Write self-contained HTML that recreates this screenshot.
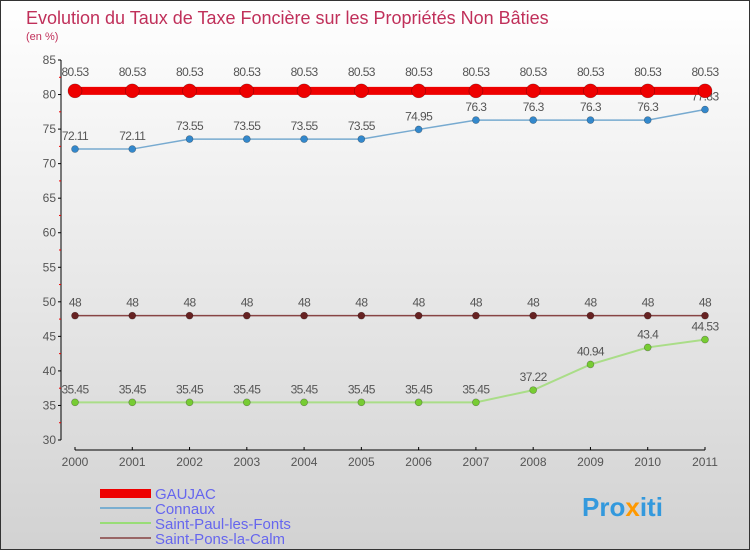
<!DOCTYPE html>
<html><head><meta charset="utf-8"><style>
body{margin:0}
#c{width:750px;height:550px;position:relative;font-family:"Liberation Sans",sans-serif;}
</style></head><body>
<div id="c">
<svg id="s" width="750" height="550" xmlns="http://www.w3.org/2000/svg">
<defs><linearGradient id="bg" x1="0" y1="0" x2="0" y2="1"><stop offset="0" stop-color="#ffffff"/><stop offset="1" stop-color="#d2d2d2"/></linearGradient></defs>
<rect x="0.5" y="0.5" width="749" height="549" fill="url(#bg)" stroke="#333"/>
<text x="26" y="24" font-size="18" fill="#c0305a">Evolution du Taux de Taxe Foncière sur les Propriétés Non Bâties</text>
<text x="26" y="40" font-size="11" fill="#c0305a">(en %)</text>
<g id="axes"></g><g id="series"></g>
<g>
<rect x="100" y="489" width="51" height="9" fill="#e00"/>
<text x="155" y="499" font-size="15" fill="#6666ee">GAUJAC</text>
<rect x="100" y="507" width="51" height="2" fill="#7aaed0"/>
<text x="155" y="514" font-size="15" fill="#6666ee">Connaux</text>
<rect x="100" y="522" width="51" height="2" fill="#99dd77"/>
<text x="155" y="529" font-size="15" fill="#6666ee">Saint-Paul-les-Fonts</text>
<rect x="100" y="537" width="51" height="2" fill="#996666"/>
<text x="155" y="544" font-size="15" fill="#6666ee">Saint-Pons-la-Calm</text>
</g>
<text x="582" y="516" font-size="26" font-weight="bold" fill="#3399dd">Pro<tspan fill="#ff9900">x</tspan>iti</text>
</svg>
</div>
<script>
const years=[2000,2001,2002,2003,2004,2005,2006,2007,2008,2009,2010,2011];
const yTicks=[30,35,40,45,50,55,60,65,70,75,80,85];
const gaujac=[80.53,80.53,80.53,80.53,80.53,80.53,80.53,80.53,80.53,80.53,80.53,80.53];
const connaux=[72.11,72.11,73.55,73.55,73.55,73.55,74.95,76.3,76.3,76.3,76.3,77.83];
const saintPaul=[35.45,35.45,35.45,35.45,35.45,35.45,35.45,35.45,37.22,40.94,43.4,44.53];
const saintPons=[48,48,48,48,48,48,48,48,48,48,48,48];
const NS="http://www.w3.org/2000/svg";
function X(i){return 75+i*(705-75)/(years.length-1);}
function Y(v){return 440-(v-30)*(380/55);}
function mk(tag,attrs,parent){const e=document.createElementNS(NS,tag);for(const k in attrs)e.setAttribute(k,attrs[k]);parent.appendChild(e);return e;}
const ax=document.getElementById('axes');
let l=mk('line',{x1:61,y1:60,x2:61,y2:440,stroke:'#000'},ax);


l=mk('line',{x1:75,y1:450,x2:705,y2:450,stroke:'#000'},ax);


yTicks.forEach(v=>{
 let t=mk('line',{x1:58,y1:Y(v),x2:61,y2:Y(v),stroke:'#000'},ax);
 
 
 if(v<85){let m=mk('line',{x1:59,y1:Y(v+2.5),x2:61,y2:Y(v+2.5),stroke:'#e00'},ax);
 
 }
 let tx=mk('text',{x:56,y:Y(v)+4,'font-size':12,fill:'#555','text-anchor':'end'},ax);tx.textContent=v;
 
 
});
years.forEach((yr,i)=>{
 let t=mk('line',{x1:X(i),y1:447,x2:X(i),y2:450,stroke:'#000'},ax);
 
 
 let tx=mk('text',{x:X(i),y:466,'font-size':12,fill:'#555','text-anchor':'middle'},ax);tx.textContent=yr;
 
 
});
const sg=document.getElementById('series');
function series(name,vals,color,dot,w,r,labelOff){
 const g=mk('g',{},sg);
 
 
 const p=mk('polyline',{points:vals.map((v,i)=>X(i)+','+Y(v)).join(' '),fill:'none',stroke:color,'stroke-width':w},g);
 
 
 vals.forEach((v,i)=>{
  const c=mk('circle',{cx:X(i),cy:Y(v),r:r,fill:dot,stroke:'rgba(0,0,0,0.35)','stroke-width':0.6},g);
  
  
  const t=mk('text',{x:X(i),y:Y(v)-labelOff,'font-size':12,fill:'#555','text-anchor':'middle','letter-spacing':'-0.6'},g);t.textContent=v;
  
  
 });
}
series('saint-pons',saintPons,'#884444','#662222',1.5,3.5,9);
series('saint-paul',saintPaul,'#aadd88','#77cc33',2,3.5,9);
series('connaux',connaux,'#77aad0','#3388cc',1.5,3.5,9);
series('gaujac',gaujac,'#ee0000','#ee0000',8,7,15);
</script>
</body></html>
